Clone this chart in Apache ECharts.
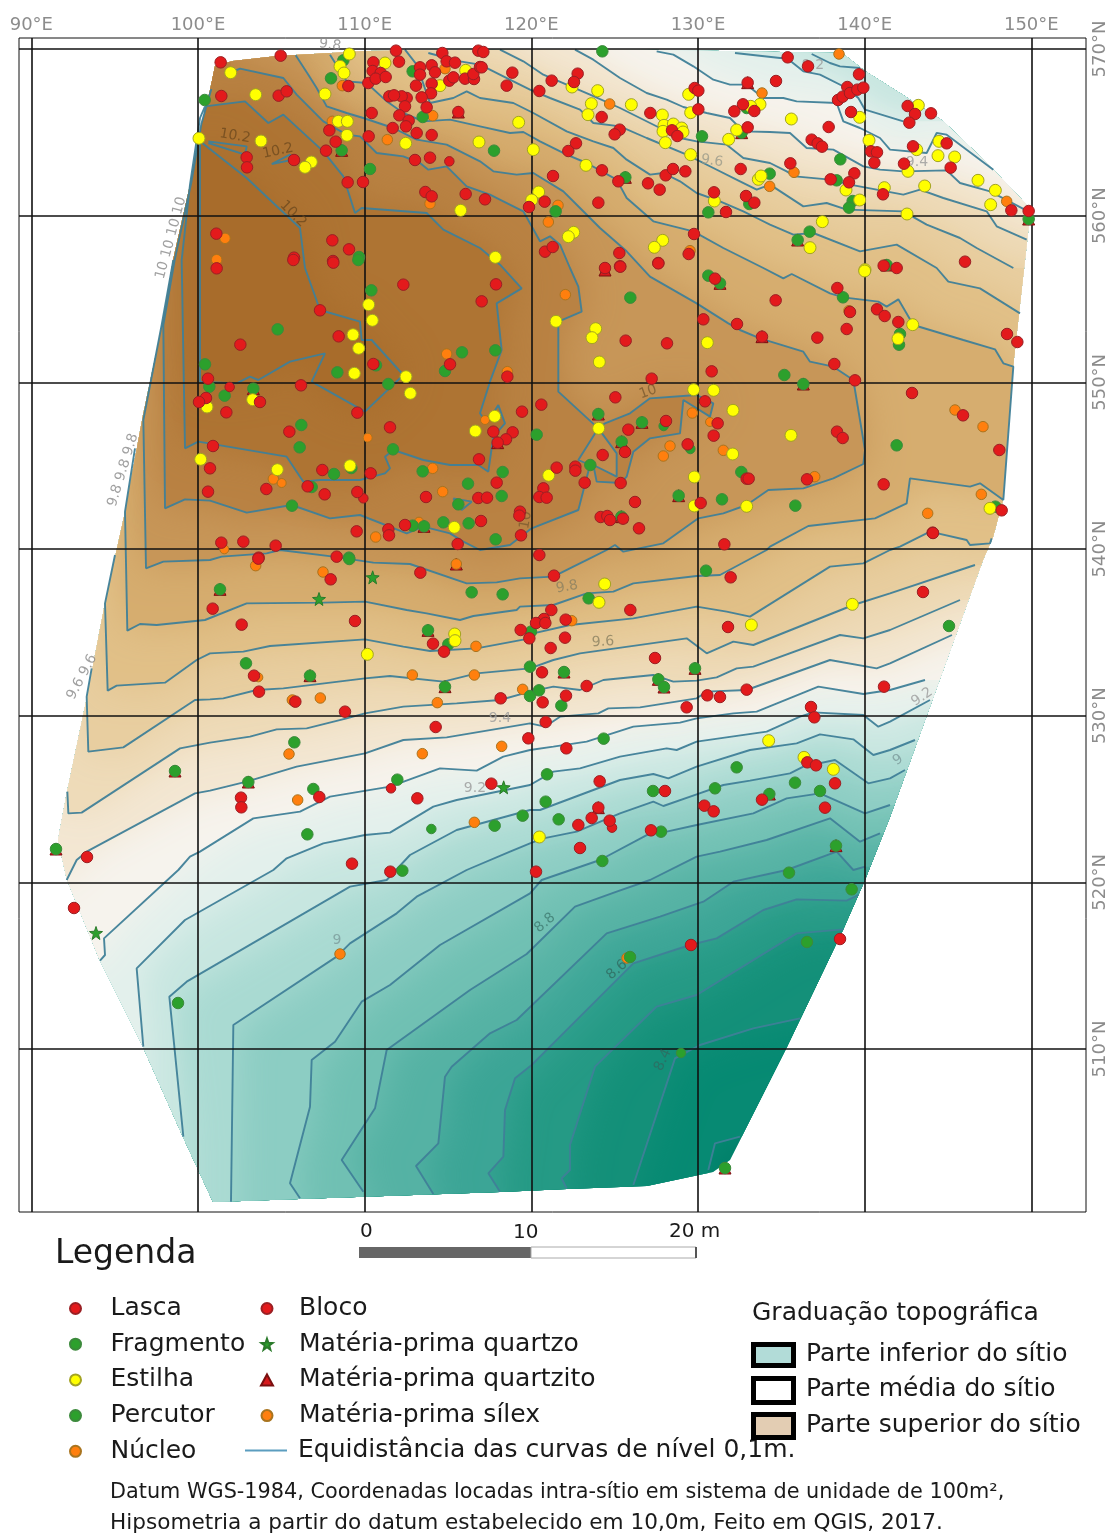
<!DOCTYPE html>
<html><head><meta charset="utf-8">
<style>html,body{margin:0;padding:0;background:#fff}#c{width:1116px;height:1533px}</style>
<script src="https://cdn.jsdelivr.net/npm/echarts@6/dist/echarts.min.js"></script>
</head><body><div id="c"></div>
<script>
const xTicks=[90,100,110,120,130,140,150];
const yTicks=[510,520,530,540,550,560,570];

const lasca=[[101.36,569.2],[104.96,569.6],[101.4,567.18],[104.84,567.2],[105.32,567.46],[102.92,563.5],[102.94,562.9],[105.76,563.34],[107.88,565.12],[108.26,564.44],[107.68,563.9],[109.02,567.78],[108.98,562],[109.9,562.02],[110.24,564.76],[110.42,566.16],[110.22,567.96],[110.52,569.2],[110.48,568.68],[110.96,568.56],[110.66,568.22],[111.26,568.32],[111.88,569.9],[112.06,569.24],[114.66,569.76],[113.32,568.9],[113.32,568.46],[114.02,569.02],[114.22,568.6],[114.92,569.26],[115.42,569.18],[115.08,568.1],[115.32,568.3],[116.02,568.22],[116.56,568.2],[116.52,568.5],[116.92,568.92],[116.82,569.9],[117.12,569.82],[114.02,567.92],[113.08,567.8],[113.98,567.34],[113.42,567.1],[112.52,567.06],[112.22,567.16],[111.48,567.16],[111.76,567.22],[112.42,566.56],[113.72,566.5],[112.08,566.02],[112.64,565.7],[112.48,565.36],[111.68,565.26],[113.12,564.96],[114.02,564.84],[115.62,566.22],[113.02,563.34],[113.92,563.48],[113.64,561.42],[114.02,561.16],[116.06,561.3],[117.22,560.98],[101.1,558.92],[108.06,558.52],[109.06,557.98],[105.76,557.48],[108.1,557.28],
[118.86,568.58],[118.52,567.8],[117.02,568.9],[120.48,567.48],[121.22,568.1],[122.78,568.52],[122.56,568.02],[124.22,565.92],[125.3,565.16],[125,564.88],[127.14,566.16],[128.44,565.12],[128.76,564.78],[129.8,567.66],[130.02,567.5],[130.02,566.38],[132.98,567.98],[134.68,568.08],[132.7,566.68],[132.18,566.26],[133.38,566.28],[132.98,565.3],[122.68,564.34],[122.22,563.88],[124.24,562.72],[121.3,562.38],[125.22,562.06],[127,561.94],[127.7,561.56],[128.06,562.42],[128.5,562.8],[129.24,562.66],[132.56,562.8],[130.96,561.4],[132.88,561.18],[133.38,560.78],[131.68,560.22],[119.86,560.52],[120.8,560.84],[124.02,560.78],[129.76,558.9],[120.82,557.84],[121.28,558.12],[125.28,557.76],[129.44,557.7],[125.32,556.96],[127.62,557.16],[124.42,556.86],
[135.38,569.5],[136.6,568.96],[139.66,568.48],[138.96,567.72],[138.4,566.94],[138.68,567.14],[139.12,567.36],[139.56,567.56],[139.92,567.68],[139.18,566.22],[137.84,565.32],[142.58,566.58],[143.02,566.1],[142.68,565.58],[143.98,566.14],[136.82,564.56],[137.18,564.34],[137.44,564.14],[142.9,564.16],[144.92,564.34],[140.38,563.86],[140.74,563.8],[140.58,563.18],[142.36,563.12],[145.16,562.88],[135.54,563.14],[139.38,562.54],[137.96,562.18],[139.06,562],[141.1,561.28],[148.8,560.32],[149.84,560.28],[146.02,557.24],[141.14,557],[141.92,556.86],
[101.12,556.84],[112.32,555.86],[107.32,554.32],[102.54,552.26],[108.44,552.76],[110.52,551.1],[115.12,551.08],[100.6,550.22],[106.18,549.82],[100.48,549.06],[100.06,548.82],[103.72,548.82],[101.7,548.2],[109.56,548.18],[105.48,547.04],[111.52,547.3],[100.9,546.18],[100.72,544.84],[107.46,544.74],[110.36,544.54],[100.6,543.44],[104.1,543.6],[106.58,543.76],[107.6,543.28],[109.56,543.42],[113.68,543.12],[109.52,541.06],[111.42,541.18],[111.46,540.82],[112.42,541.44],[101.4,540.38],[102.72,540.44],[104.66,540.2],[103.64,539.48],[108.32,539.54],[115.58,540.3],[105.72,557.34],[108.12,557.18],
[117.88,555.88],[117.02,554.86],[125.34,556.94],[127.62,557.14],[131.02,556.22],[130.32,553.78],[132.34,553.5],[125.66,552.5],[128.14,552.34],[130.82,550.66],[118.56,550.34],[127.22,550.22],[125.04,549.1],[130.42,548.86],[120.6,548.66],[119.44,548.24],[118.88,547],[118.48,546.58],[117.98,546.38],[117.72,547.04],[125.82,547.16],[128.08,547.68],[131.18,547.54],[130.94,546.8],[129.38,546.28],[125.62,545.82],[124.28,545.64],[116.86,545.38],[121.52,544.88],[122.64,544.94],[122.64,544.7],[123.2,543.98],[125.36,543.96],[117.92,543.98],[120.72,543.64],[120.48,543.12],[120.92,543.08],[116.82,543.06],[117.34,543.08],[126.22,542.82],[130.16,542.76],[132.92,544.22],[119.32,542.24],[119.28,542],[116.98,541.68],[119.38,540.82],[124.16,541.92],[124.56,541.98],[124.72,541.74],[125.5,541.82],[126.46,541.24],[131.58,540.28],[120.48,539.64],
[138.36,555.66],[134.66,554.92],[140.74,554.38],[141.2,553.98],[142.02,553.62],[139.12,554.22],[138.92,553.2],[137.16,552.68],[133.84,552.74],[138.18,551.1],[139.42,550.12],[148.54,552.9],[149.16,552.42],[142.84,549.36],[145.9,548.02],[138.34,547.04],[138.68,546.66],[148.08,545.94],[141.14,543.88],[136.54,544.18],[133.04,544.22],[148.22,542.32],[144.08,540.98],
[103.62,539.42],[107.96,538.18],[100.88,536.42],[102.62,535.46],[109.42,535.68],[113.34,538.58],[103.36,532.4],[103.66,531.44],[105.84,530.84],[108.82,530.24],[114.1,534.32],[114.76,533.84],[114.26,529.32],[118.16,531.04],[119.36,535.14],[119.88,534.64],[119.82,528.64],[102.58,525.08],[102.6,524.5],[107.28,525.12],[113.16,525.04],[117.6,525.92],[109.24,521.12],[111.54,520.64],
[121.36,538.4],[125.94,536.34],[131.96,538.3],[121.2,536.34],[120.76,535.8],[120.28,535.56],[120.84,535.56],[122.06,535.76],[122.02,534.68],[121.16,534.06],[131.8,535.32],[127.42,533.46],[120.64,532.6],[122.08,531.2],[123.32,531.78],[120.68,530.8],[130.56,531.22],[131.32,531.12],[132.92,531.56],[129.32,530.5],[136.78,530.52],[136.98,529.9],[120.86,529.62],[122.1,528.04],[141.16,531.74],[124.1,526.06],[128.02,525.48],[136.56,527.2],[137.08,527.02],[138.22,525.94],[124.02,524.48],[133.84,524.96],[130.38,524.6],[130.94,524.26],[137.62,524.48],[123.62,523.86],[122.82,523.44],[124.7,523.7],[127.18,523.12],[122.92,522.06],[120.28,520.64],
[93.34,521.52],[92.56,518.46],[129.58,516.24],[138.52,516.6],[143.5,537.42],[144.1,540.96]];
const bloco=[[115.08,563.26],[101.9,549.72],[109.92,543.04],[124.84,523.28],[111.58,525.64]];

const fragmento=[[100.4,566.94],[108.72,569.32],[107.98,568.24],[108.62,563.92],[110.32,562.8],[109.66,557.52],[113.48,565.92],[112.88,568.66],[124.26,569.86],[117.76,563.9],[125.64,562.3],[130.24,564.76],[132.62,564.98],[132.92,566.46],[134.3,562.52],[121.46,560.26],[130.62,560.2],[133.08,560.7],[138.54,563.38],[138.32,562.12],[139.28,560.88],[139.06,560.48],[136.7,559.04],[135.98,558.54],[149.84,559.8],[110.4,555.52],[104.78,553.18],[100.42,551.08],[108.36,550.6],[110.68,551.02],[114.82,550.68],[111.42,549.9],[100.68,549.74],[103.32,549.62],[101.6,549.2],[106.2,547.44],[106.1,546.1],[111.7,545.98],[108.16,544.5],[109.2,544.86],[113.48,544.66],[106.82,543.72],[105.64,542.6],[112.88,541.4],[113.56,541.36],[114.72,541.6],[115.62,542.68],[109.06,539.48],[109.62,557.34],[125.94,555.08],[130.62,556.4],[131.32,555.94],[115.84,551.8],[117.84,551.92],[120.32,546.86],[124.02,548.1],[126.64,547.6],[125.42,546.44],[132.6,544.62],[123.54,545.04],[118.28,544.62],[116.2,543.92],[118.22,543.18],[116.24,541.54],[117.86,540.58],[125.4,541.94],[128.84,543.2],[131.44,542.98],[138.7,555.1],[142.12,552.9],[142.06,552.26],[135.18,550.44],[136.32,549.9],[141.92,546.22],[135.84,542.6],[147.84,542.54],[141.32,557.04],[109.08,539.4],[101.32,537.58],[116.42,537.4],[118.28,537.28],[113.8,535.12],[115.02,534.28],[102.88,533.14],[106.72,532.4],[114.82,531.74],[103.02,526.02],[105.78,528.4],[106.92,525.6],[111.96,526.16],[106.56,522.88],[117.8,523.4],[119.48,524],[112.26,520.7],[119.92,532.94],[119.92,531.18],[130.48,538.7],[123.44,537.04],[119.98,535.04],[121.96,532.62],[127.62,532.18],[127.96,531.72],[129.82,532.84],[120.46,531.52],[121.8,530.6],[124.34,528.62],[120.94,526.48],[120.86,524.84],[121.64,523.78],[127.3,525.48],[131.02,525.64],[132.32,526.9],[134.28,525.3],[135.82,525.98],[137.32,525.48],[138.28,522.2],[127.78,523.04],[124.26,521.28],[135.46,520.58],[139.22,519.58],[91.48,522],[98.62,526.68],[98.8,512.76],[136.54,516.42],[125.92,515.52],[131.62,502.86],[145.06,535.38]];
const percutor=[[114,523.2],[127.94,547.38],[129.54,546],[128.98,509.76]];

const estilha=[[101.96,568.58],[103.46,567.26],[100.06,564.64],[103.78,564.48],[107.62,567.3],[109.08,569.7],[108.52,568.96],[108.76,568.56],[108.42,565.66],[108.96,565.66],[108.94,564.82],[106.8,563.22],[106.42,562.9],[111.22,569.16],[112.46,564.34],[115.76,560.32],[116.86,564.42],[116.06,568.72],[114.52,567.8],[119.24,565.6],[120.12,563.96],[117.84,557.5],[122.44,567.72],[123.98,567.5],[123.6,566.72],[123.4,566.06],[126,566.66],[127.86,566.04],[127.96,565.42],[127.9,565.06],[128.52,565.5],[129.02,565.26],[129.1,565.02],[128.04,564.38],[129.56,566.18],[129.44,567.28],[129.56,563.66],[123.28,563.02],[120.44,561.42],[120.02,560.94],[130.98,560.88],[122.54,559],[122.22,558.74],[127.88,558.52],[127.38,558.1],[131.84,564.58],[132.32,565.14],[133.72,566.68],[133.16,566.56],[133.62,562.18],[133.78,562.38],[135.6,565.8],[139.7,565.9],[143.22,566.62],[140.26,564.52],[143.12,563.96],[144.46,564.46],[144.4,563.6],[145.4,563.52],[142.6,562.66],[141.18,561.68],[143.6,561.78],[138.88,561.54],[139.7,560.94],[146.8,562.12],[147.84,561.52],[147.56,560.66],[142.54,560.1],[137.46,559.64],[136.72,558.08],[140.02,556.76],[110.24,554.66],[110.46,553.72],[109.3,552.86],[109.64,552.04],[109.38,550.54],[112.48,550.34],[112.74,549.34],[103.28,548.96],[100.54,548.52],[100.16,545.38],[104.76,544.76],[109.12,545],[115.38,541.3],[121.48,553.66],[123.86,553.22],[123.64,552.68],[124.08,551.22],[130.56,552.38],[129.74,549.56],[130.94,549.52],[132.1,548.32],[117.8,547.96],[116.64,547.08],[124.04,547.24],[132.08,545.7],[121.04,544.42],[129.78,544.32],[129.78,542.58],[132.92,542.56],[140,556.68],[142.88,553.46],[142,552.62],[135.58,546.82],[147.52,542.44],[115.4,534.9],[115.42,534.5],[110.16,533.68],[124.4,537.9],[124.06,536.8],[133.2,535.44],[139.26,536.68],[134.24,528.5],[136.36,527.5],[138.12,526.78],[120.48,522.72]];

const nucleo=[[111.36,564.56],[114.08,566],[101.62,558.64],[101.12,557.36],[113.92,560.72],[108.66,567.8],[108.06,565.66],[114.82,568.82],[124.7,566.7],[133.84,567.36],[134.3,561.76],[121.6,560.62],[121.02,559.62],[129.52,557.9],[138.46,569.7],[135.76,562.6],[148.52,560.86],[114.92,551.7],[114.08,544.84],[104.52,544.2],[114.68,543.44],[110.66,540.72],[122.04,555.26],[129.66,548.16],[128.32,546.18],[127.92,545.58],[131.52,545.92],[118.56,550.64],[139.06,554.3],[145.42,548.34],[147.1,547.34],[137,544.34],[147,543.28],[143.78,542.14],[103.46,539],[107.5,538.62],[115.5,539.1],[116.68,534.16],[112.86,532.44],[116.58,532.44],[119.48,531.58],[105.66,530.94],[107.34,531.06],[114.36,530.78],[105.46,527.7],[113.46,527.72],[118.22,528.16],[105.98,524.94],[116.58,523.6],[122.42,535.7],[108.52,515.7],[125.74,515.46]];
const silex=[[105.02,543.96],[110.18,546.68],[117.22,547.74],[130.72,547.62],[101.58,539.98],[103.62,532.3],[113.26,541.64]];
const quartzo=[[110.48,538.3],[107.26,537],[118.34,525.7],[93.88,516.96]];
const quartzito=[[108.62,563.92],[125.64,562.3],[132.62,564.98],[132.98,567.98],[115.62,566.22],[135.98,558.54],[149.84,559.8],[103.32,549.62],[113.56,541.36],[117.98,546.38],[124.02,548.1],[126.64,547.6],[125.42,546.44],[125.4,541.94],[128.84,543.2],[131.32,555.94],[136.32,549.9],[133.84,552.74],[141.32,557.04],[101.32,537.58],[113.8,535.12],[106.72,532.4],[114.82,531.74],[103.02,526.02],[115.5,539.1],[121.96,532.62],[127.62,532.18],[127.96,531.72],[129.82,532.84],[124.02,524.48],[134.28,525.3],[138.28,522.2],[91.48,522],[98.62,526.68],[131.62,502.86],[124.42,556.74]];

const siteHull=[[101.02,568.98],[102.1,569.28],[104.74,569.58],[110.14,569.88],[124.12,570],[138.64,569.76],[140.02,568.68],[142.3,567.24],[144.7,565.68],[147.34,563.16],[149.74,560.64],[149.92,560.04],[149.62,557.34],[148.9,550.92],[148.3,542.94],[147.7,540.72],[147.1,539.34],[141.52,523.92],[140.02,520.14],[138.7,517.14],[135.34,510.12],[131.92,503.34],[130.9,502.62],[126.94,501.78],[122.14,501.6],[118.12,501.42],[100.9,500.82],[99.1,504.72],[96.7,510.12],[94.12,515.28],[92.14,520.14],[91.6,522.54],[92.14,525.42],[93.34,531.12],[94.42,536.76],[95.62,542.22],[96.7,548.04],[97.84,553.44],[98.5,557.34],[99.52,561.84],[100.12,565.08],[100.72,567.54]];

const c83=[[130.62,502.74],[131.02,504.34],[132.52,504.74]];
const c84=[[126.12,501.84],[128.62,509.44],[130.12,510.24],[133.32,511.24],[136.12,511.84]];
const c85=[[122.12,501.64],[121.82,502.24],[122.32,502.74],[122.32,504.24],[123.82,508.94],[127.52,512.54],[129.92,513.24],[135.92,516.94],[138.72,517.18]];
const c86=[[118.12,501.44],[117.42,502.54],[118.32,503.54],[118.42,506.34],[119.02,508.24],[120.02,509.04],[126.12,515.14],[129.52,516.24],[131.12,516.64],[133.92,518.34],[135.92,518.98],[138.92,518.9],[139.62,519.24]];
const c87=[[114.12,501.3],[113.08,502.98],[114.42,504.34],[114.82,508.34],[115.22,508.94],[117.52,510.94],[119.12,511.74],[124.52,516.94],[127.72,517.94],[130.32,518.84],[132.12,520.04],[135.32,520.74],[138.32,521.84],[139.32,520.74],[140.02,520.94]];
const c88=[[109.92,501.44],[108.62,503.34],[110.62,506.44],[111.32,509.94],[116.32,513.54],[119.72,515.7],[122.62,518.54],[125.12,519.44],[127.12,520.14],[129.92,521.54],[131.32,521.84],[134.12,522.54],[137.92,523.84],[139.72,522.44],[140.92,522.94]];
const c89=[[106.12,501.04],[105.52,501.94],[106.72,506.54],[106.82,509.34],[108.22,510.44],[109.82,512.84],[111.52,513.84],[114.52,516.24],[119.92,519.34],[120.62,520.14],[124.12,521.34],[127.12,522.94],[128.12,523.04],[129.92,523.44],[133.32,524.14],[135.32,525.04],[137.32,525.34],[140.02,524.14],[141.52,524.64]];
const c90=[[101.98,500.84],[102.12,511.44],[108.32,515.54],[109.12,516.34],[111.92,518.14],[113.12,519.14],[116.12,520.74],[118.72,521.84],[119.92,522.34],[120.72,522.64],[122.72,523.04],[125.32,524.14],[127.32,524.84],[127.92,524.58],[129.92,525.28],[131.52,525.84],[133.12,526.1],[135.52,526.54],[136.32,526.94],[138.22,527.34],[140.22,525.94],[141.52,526.24],[142.42,526.74]];
const c91=[[99.12,504.74],[98.28,513.14],[99.32,514.04],[109.12,519.74],[111.32,520.14],[112.72,521.64],[115.52,523.14],[119.92,524.34],[120.52,524.34],[122.92,525.24],[125.32,526.14],[127.32,526.5],[128.22,526.24],[129.92,526.94],[133.12,527.94],[135.92,528.34],[137.32,528.88],[139.32,528.58],[140.52,527.64],[141.52,527.94],[143.02,528.54]];
const c91top=[[136.82,569.7],[137.92,569.16],[138.52,568.96],[139.72,568.86]];
const c92=[[96.72,510.14],[96.32,514.84],[99.22,517.74],[104.52,520.74],[105.32,521.44],[107.52,522.34],[110.02,522.84],[111.52,522.98],[114.12,524.54],[115.52,524.94],[119.92,525.84],[121.32,526.64],[122.92,526.84],[125.32,527.54],[128.12,528.04],[128.72,527.94],[129.92,528.44],[134.12,529.04],[136.12,529.94],[136.92,530.2],[139.92,530.04],[140.82,529.34],[141.52,529.64],[143.92,530.94]];
const c92top=[[132.22,569.76],[134.92,569.46],[135.32,569.46],[136.32,568.66],[137.32,568.46],[138.92,567.66],[139.62,567.06],[140.02,566.36],[142.32,565.66]];
const c93=[[94.12,515.3],[94.42,515.64],[94.36,516.64],[98.82,520.74],[99.52,521.54],[100.12,521.84],[103.32,523.84],[106.12,524.24],[107.92,525.14],[111.52,525.74],[114.52,526.84],[116.72,526.7],[118.32,527.54],[119.92,527.94],[121.32,528.14],[123.32,528.44],[126.12,529.34],[128.92,529.58],[129.92,529.84],[132.12,530.14],[133.52,530.24],[137.22,531.74],[139.92,531.3],[141.52,531.54],[143.62,532.14]];
const c93top=[[127.52,569.86],[128.52,569.66],[129.72,568.96],[130.92,568.16],[131.92,567.86],[132.92,567.86],[133.92,567.06],[135.12,567.06],[135.92,566.86],[138.32,566.76],[138.72,565.66],[139.72,565.26],[140.92,564.66],[141.52,563.96],[143.72,563.76],[144.32,564.96],[144.92,564.86],[147.72,562.76]];
const c94=[[92.12,520.14],[92.72,521.34],[93.32,521.84],[99.82,525.34],[100.72,525.5],[102.92,526.04],[105.92,526.94],[110.02,527.74],[112.32,528.54],[114.92,528.7],[119.92,529.54],[120.02,529.64],[120.82,529.34],[121.72,529.94],[124.02,530.14],[124.62,530.44],[126.52,530.5],[129.92,531.04],[130.52,531.44],[132.92,531.54],[137.92,533.34],[140.72,532.84],[141.52,533.14],[145.24,534.84]];
const c94top=[[122.62,569.96],[123.72,569.36],[125.32,568.26],[126.92,567.36],[128.12,566.96],[129.12,566.52],[130.52,566.16],[131.92,565.86],[132.72,565.06],[134.32,565.02],[135.52,564.96],[136.52,564.06],[138.12,563.96],[139.92,562.96],[140.92,562.76],[142.32,562.66],[144.92,562.72],[145.72,561.96],[147.52,561.46],[149.72,560.3]];
const c95=[[92.16,525.44],[92.22,524.14],[93.02,524.18],[98.92,528.04],[100.72,528.38],[103.12,528.74],[104.72,529.18],[106.52,529.24],[108.92,529.84],[110.02,530.14],[112.32,530.54],[115.52,530.74],[118.12,530.94],[119.92,531.44],[121.32,531.74],[122.92,531.54],[124.32,532.14],[127.32,532.44],[128.52,532.04],[129.92,532.1],[131.12,532.3],[132.32,532.84],[133.32,532.94],[138.52,534.84],[139.92,534.64],[141.52,535.14],[145.72,536.94]];
const c95top=[[118.12,569.96],[119.52,569.26],[120.72,568.46],[122.12,567.86],[123.52,567.26],[125.32,566.46],[127.12,565.56],[128.92,564.66],[129.92,564.46],[131.72,564.26],[132.72,563.46],[134.32,563.16],[135.32,562.66],[135.82,562.36],[137.92,562.16],[139.12,561.86],[142.32,561.26],[143.32,561.56],[144.72,561.06],[147.32,560.26],[147.92,559.36],[149.72,558.56]];
const c96=[[93.62,532.84],[93.32,531.14],[93.42,527.84],[95.52,528.1],[99.82,530.94],[100.72,530.98],[101.52,531.04],[103.52,531.54],[105.12,531.64],[110.02,532.24],[111.52,532.38],[114.72,532.04],[116.72,532.54],[119.92,532.84],[121.32,533.34],[122.92,533.74],[129.32,534.64],[130.52,533.74],[132.12,534.44],[133.32,534.24],[139.32,536.64],[141.52,537.34],[146.62,539.04]];
const c96top=[[113.82,569.76],[115.72,569.26],[116.92,569.06],[118.32,568.36],[119.92,567.56],[121.12,567.06],[122.92,566.36],[123.72,565.56],[125.32,565.36],[126.92,564.66],[129.32,563.66],[130.92,562.86],[132.52,562.06],[133.52,561.56],[134.32,561.86],[136.32,560.56],[137.72,560.76],[138.92,560.36],[142.32,560.26],[143.72,559.46],[145.72,558.66],[146.72,558.06],[148.92,556.86]];
const c97=[[95.02,539.64],[94.42,536.74],[94.58,531.5],[95.12,531.8],[98.02,531.98],[99.92,533.34],[100.72,533.74],[102.72,533.84],[104.32,534.18],[110.02,534.58],[112.32,534.14],[113.92,533.88],[116.72,534.04],[119.92,534.64],[120.12,534.94],[122.32,535.44],[126.12,535.84],[129.92,536.54],[131.72,536.24],[133.12,535.94],[137.92,538.94],[139.92,539.14],[141.52,539.94],[142.12,540.14],[143.92,541.04],[146.12,540.54],[146.32,540.24],[147.52,540.34],[147.62,540.64]];
const c97top=[[112.42,569.96],[113.12,569.06],[113.92,566.76],[115.32,567.06],[116.12,567.46],[116.92,567.06],[118.92,566.76],[120.12,566.16],[122.12,565.06],[123.72,564.46],[124.92,564.06],[125.72,563.36],[127.12,562.46],[127.92,562.56],[128.92,562.06],[129.92,561.36],[131.32,560.86],[132.72,560.26],[133.52,559.86],[134.32,559.46],[135.72,558.86],[136.92,558.96],[139.72,557.86],[141.92,558.26],[144.32,556.86],[145.02,556.04],[146.92,555.64],[149.32,554.14]];
const c98=[[107.92,569.66],[108.92,568.06],[110.12,567.96],[111.32,566.86],[112.32,566.16],[113.52,565.66],[115.12,565.76],[116.92,565.36],[118.72,564.96],[119.52,565.02],[120.52,564.46],[122.12,563.66],[123.32,563.16],[125.12,562.16],[125.72,561.06],[127.32,559.66],[129.72,559.06],[131.52,558.06],[133.92,556.86],[135.12,556.24],[135.62,556.5],[137.92,555.34],[138.72,555.1],[140.82,554.84],[141.32,554.54],[142.02,554.98],[142.92,553.44],[145.92,552.54],[147.82,551.98],[148.32,551.14],[148.92,550.94],[148.32,542.94],[146.92,543.94],[146.32,543.74],[142.72,544.24],[142.52,542.74],[140.62,541.84],[136.62,541.38],[134.32,540.14],[134.12,539.94],[131.32,538.44],[129.92,538.38],[126.12,537.94],[124.92,537.44],[123.32,537.34],[121.32,536.64],[119.32,536.54],[119.12,536.34],[116.52,535.98],[115.72,535.74],[113.72,536.14],[112.52,536.34],[110.02,536.84],[107.52,536.78],[102.92,536.74],[100.42,535.74],[97.52,535.44],[96.52,535.5],[95.76,535.1],[95.62,542.24],[96.22,546.04]];
const c99=[[105.86,569.62],[106.62,568.46],[107.12,567.66],[107.72,566.56],[108.92,566.16],[109.92,565.86],[111.72,565.26],[113.12,564.56],[114.92,564.26],[116.92,563.26],[117.72,562.66],[119.12,562.46],[120.12,562.56],[121.92,561.46],[122.92,560.46],[124.12,559.26],[125.72,557.86],[127.12,556.34],[129.92,554.74],[131.82,553.54],[132.52,553.14],[133.72,552.64],[136.32,551.84],[136.72,551.24],[138.12,550.94],[139.32,550.14],[140.02,545.94],[139.92,545.1],[138.12,544.24],[136.32,543.64],[134.22,543.54],[132.92,542.64],[131.52,542.14],[130.02,541.84],[127.92,540.34],[125.52,539.84],[125.02,540.24],[124.52,539.94],[123.52,539.44],[122.52,538.94],[121.32,538.34],[119.32,538.24],[117.92,538],[116.12,537.94],[112.72,539.1],[110.52,539.18],[108.12,539.54],[104.92,539.94],[104.12,539.74],[101.42,539.54],[100.72,539.34],[97.92,539.24],[96.88,538.84],[96.72,547.74],[97.82,553.44],[98.52,557.34]];
const c100=[[101.96,568.58],[102.52,568.82],[105.12,568.26],[105.92,567.26],[107.52,565.66],[108.92,564.86],[109.72,564.76],[110.72,563.76],[112.32,563.56],[113.32,563.16],[113.82,562.76],[114.92,562.96],[116.12,561.76],[117.52,561.26],[118.32,560.86],[119.52,560.26],[120.52,558.46],[121.12,558.76],[121.72,558.26],[122.32,556.86],[122.82,555.74],[123.02,554.24],[121.62,553.64],[121.62,549.44],[124.02,547.24],[124.42,547.54],[125.92,548.14],[127.12,549.04],[129.92,549.24],[130.92,548.74],[130.72,547.94],[129.12,548.94],[128.92,546.94],[127.12,546.64],[126.12,545.84],[125.72,544.34],[125.36,543.96],[123.92,544.04],[123.72,545.04],[125.12,544.34],[125.12,545.74],[124.02,547.24],[122.82,545.34],[123.52,545.04],[122.82,542.34],[120.02,541.24],[118.72,540.24],[116.92,539.94],[115.92,540.44],[115.12,540.94],[113.52,541.34],[112.52,540.94],[109.72,542.04],[107.92,541.84],[105.62,542.64],[102.92,542.18],[100.72,542.9],[99.22,542.98],[98.02,542.44],[97.92,553.44],[98.6,557.34],[99.6,562],[100.2,565.5],[100.8,567.6]];
const c101=[[100.42,566.56],[102.82,566.86],[104.22,565.56],[105.12,566.06],[107.52,563.86],[108.72,562.36],[109.42,560.16],[109.82,560.46],[113.72,560.16],[114.72,559.16],[116.92,558.06],[118.12,557.06],[119.42,555.64],[117.92,554.74],[118.22,551.94],[117.52,550.04],[116.92,548.14],[117.32,547.54],[118.02,548.64],[118.42,547.54],[117.72,546.74],[117.42,544.64],[116.82,545.04],[115.12,545.04],[113.52,545.34],[111.72,545.94],[111.22,545.54],[111.52,544.84],[111.22,544.54],[109.72,544.14],[107.32,544.14],[106.32,544.04],[105.32,545.54],[100.02,546.44],[99.22,546.04],[99.02,557.34],[99.52,561.86],[100.12,565.86],[100.42,566.56]];
const c101small=[[115.32,543.04],[116.42,542.84],[115.82,542.34],[115.32,543.04]];
const c102=[[100.12,564.46],[102.92,562.26],[106.12,559.26],[106.42,556.86],[107.32,554.34],[109.72,553.64],[109.82,552.54],[110.42,552.54],[112.32,550.44],[110.02,548.24],[106.82,550.04],[107.62,551.74],[105.52,551.24],[103.62,550.14],[103.12,550.34],[102.32,549.94],[100.12,550.04],[100.12,557.34],[100.12,564.46]];
const c102wedge=[[100.62,564.46],[102.92,564.16],[102.82,563.66],[100.62,564.36]];
const c102small=[[104.42,563.1],[105.52,563.66],[105.72,563.36],[104.42,563.1]];

const levels=[8.3,8.4,8.5,8.6,8.7,8.8,8.9,9.0,9.1,9.2,9.3,9.4,9.5,9.6,9.7,9.8,9.9,10.0,10.1,10.2];
const levelColors=['#078a73','#149079','#259a85','#3ca596','#55b2a4','#70c0b3','#8ccdc3','#a9dad2','#c7e6e0','#e3f0ec','#f6f3ed','#f3e7d3','#eedbb9','#e8cea0','#e1c088','#d6ad6f','#c79658','#b98243','#ae7433','#a86c2b'];
const baseColor='#007f68';
const lowerLines=[c83,c84,c85,c86,c87,c88,c89,c90,c91,c92,c93,c94,c95,c96,c97,c98,c99,c100,c101,c102];
const upperLines={9.2:c92top,9.3:c93top,9.4:c94top,9.5:c95top,9.6:c96top,9.7:c97top};
const extraLines=[c91top,c92top,c93top,c94top,c95top,c96top,c97top,c101small,c102wedge,c102small];

const contourLabels=[
['9.8',107.92,570.24,-8,'#8a8a8a'],['10.2',102.22,564.78,-10,'#6e4a1e'],['10.2',104.8,563.88,12,'#6e4a1e'],['10.2',105.7,560.1,-45,'#6e4a1e'],
['10 10 10 10',98.38,558.66,75,'#8a8a8a'],['9.8 9.8 9.8',95.5,544.74,73,'#8a8a8a'],['9.6 9.6',93.04,532.32,62,'#8a8a8a'],
['9.6',130.84,563.28,-8,'#9a9a8a'],['9.4',143.14,563.22,0,'#9a9a9a'],['9.2',136.9,569.04,0,'#9a9a9a'],['10',127,549.42,20,'#7a5a30'],['10',119.68,541.74,80,'#7a5a30'],
['9.8',122.14,537.72,10,'#8a8060'],['9.6',124.3,534.42,3,'#8a8060'],['9.4',118.12,529.86,0,'#9a9a9a'],['9.2',116.62,525.66,0,'#9a9a9a'],['9.2',143.44,531.12,35,'#9a9a9a'],['9',142,527.34,35,'#7a9a9a'],['9',108.34,516.54,0,'#7a9a9a'],
['8.8',120.82,517.56,40,'#3f7a70'],['8.6',125.14,514.74,40,'#2f6a60'],['8.4',127.9,509.34,65,'#2f6a60']];

const legendNames=['Lasca','Fragmento','Estilha','Percutor','Núcleo','Bloco','Matéria-prima quartzo','Matéria-prima quartzito','Matéria-prima sílex','Equidistância das curvas de nível 0,1m.'];

/* ---- band polygons built from the contour lines ---- */
const OUT_E=170,OUT_N=585,OUT_W=80,OUT_S=480;
function bandPolygon(i){
  const lv=levels[i],L=lowerLines[i],U=upperLines[lv],a=L[0],b=L[L.length-1];
  if(lv>=10.1) return L;
  if(lv>=9.8) return L.concat([[OUT_W,b[1]],[OUT_W,OUT_N],[a[0],OUT_N]]);
  let p=L.concat([[OUT_E,b[1]]]);
  if(U){p.push([OUT_E,U[U.length-1][1]]);p=p.concat(U.slice().reverse());p.push([U[0][0],OUT_N]);}
  else p.push([OUT_E,OUT_N]);
  p.push([OUT_W,OUT_N]);
  if(lv<=9.2){p.push([OUT_W,OUT_S]);p.push([a[0],OUT_S]);} else p.push([OUT_W,a[1]]);
  return p;
}
const contourData=[];
lowerLines.concat(extraLines).forEach(s=>{s.forEach(q=>contourData.push(q));contourData.push([null,null]);});

function pts(sym,size,fill,border,name,data){
  return {type:'scatter',name,data,symbol:sym,symbolSize:size,z:4,silent:true,
    itemStyle:{color:fill,borderColor:border,borderWidth:1,opacity:1},emphasis:{disabled:true}};
}
const C=echarts.init(document.getElementById('c'),null,{renderer:'canvas'});
const FONT='"DejaVu Sans"';
const txt=(x,y,t,s,c)=>({type:'text',left:x,top:y,z:20,style:{text:t,font:s+'px '+FONT,fill:c||'#1a1a1a'}});
const swatch=(y,h,f)=>({type:'rect',z:25,shape:{x:753.5,y:y,width:40,height:h},style:{fill:f,stroke:'#000',lineWidth:5}});
const legendText=p=>({fontSize:25,color:'#1a1a1a',fontFamily:FONT,lineHeight:27,padding:[0,0,0,p]});
C.setOption({
  animation:false,
  backgroundColor:'#fff',
  textStyle:{fontFamily:FONT},
  grid:{left:19,right:30,top:38,bottom:321,show:true,borderColor:'#111',borderWidth:1,backgroundColor:'transparent'},
  xAxis:{type:'value',position:'top',min:89.26,max:153.28,z:3,
    axisLine:{show:false},
    axisTick:{show:false,customValues:xTicks},
    axisLabel:{customValues:xTicks,formatter:v=>v+'°E',color:'#8c8c8c',fontSize:18,margin:4,fontFamily:FONT},
    splitLine:{show:true,lineStyle:{color:'#111',width:1.6}}},
  yAxis:{type:'value',position:'right',min:500.22,max:570.66,z:3,
    axisLine:{show:false},
    axisTick:{show:false,customValues:yTicks},
    axisLabel:{customValues:yTicks,formatter:v=>v+'°N',color:'#8c8c8c',fontSize:18,rotate:90,margin:14,fontFamily:FONT,align:'center',verticalAlign:'middle'},
    splitLine:{show:true,lineStyle:{color:'#111',width:1.6}}},
  legend:[
    {left:69,top:1295,padding:0,orient:'vertical',itemWidth:12,itemHeight:11,itemGap:8.7,selectedMode:false,
      data:legendNames.slice(0,5),textStyle:legendText(24)},
    {left:260,top:1295,padding:0,orient:'vertical',itemWidth:12,itemHeight:11,itemGap:8.7,selectedMode:false,
      data:legendNames.slice(5,9),textStyle:legendText(21)},
    {left:245,top:1437,padding:0,orient:'vertical',itemWidth:42,itemHeight:2,selectedMode:false,
      data:[{name:legendNames[9],icon:'rect'}],textStyle:legendText(6)}
  ],
  series:[
    {type:'custom',coordinateSystem:'cartesian2d',silent:true,z:1,clip:false,
      data:levels.map((l,i)=>[lowerLines[i][0][0],lowerLines[i][0][1],l]),
      encode:{x:0,y:1},
      renderItem:function(params,api){
        const i=params.dataIndex;
        const toPx=a=>a.map(q=>api.coord(q));
        const hull=toPx(siteHull);
        const clip={type:'polygon',shape:{points:hull}};
        const band={type:'polygon',shape:{points:toPx(bandPolygon(i))},clipPath:clip,
          style:{fill:levelColors[i],shadowColor:levelColors[i],shadowBlur:40}};
        if(i===0) return {type:'group',children:[
          {type:'polygon',shape:{points:hull},style:{fill:baseColor}},band]};
        return band;
      }},
    {type:'line',name:legendNames[9],data:contourData,z:2,silent:true,showSymbol:false,symbol:'none',connectNulls:false,
      lineStyle:{color:'#3f7f98',width:1.9,opacity:0.95},itemStyle:{color:'#5b9dbf'}},
    {type:'scatter',name:'rótulos',data:contourLabels.map(l=>({value:[l[1],l[2],l[0]],
        label:{show:true,formatter:l[0],rotate:l[3],color:l[4],fontSize:14,position:'inside',fontFamily:FONT}})),
      symbolSize:1,itemStyle:{color:'transparent'},z:3,silent:true},
    pts('triangle',12,'#d7191c','#7a1010',legendNames[7],quartzito),
    pts('circle',10.5,'#ff7f0e','#a9741f',legendNames[4],nucleo),
    pts('circle',9,'#ff7f0e','#a9741f',legendNames[8],silex),
    pts('circle',11.5,'#2ca02c','#3c8a3c',legendNames[1],fragmento),
    pts('circle',9.5,'#2ca02c','#3c8a3c',legendNames[3],percutor),
    pts('path://M50 0 L62 35 L100 38 L70 60 L80 97 L50 75 L20 97 L30 60 L0 38 L38 35 Z',13,'#2ca02c','#2a7a2a',legendNames[6],quartzo),
    pts('circle',12,'#ffff00','#a3a322',legendNames[2],estilha),
    pts('circle',9.5,'#e31a1c','#9a2024',legendNames[5],bloco),
    pts('circle',11.5,'#e31a1c','#9a2024',legendNames[0],lasca)
  ],
  graphic:[
    txt(55,1238,'Legenda',33),
    {type:'rect',z:20,shape:{x:359,y:1247,width:172,height:11},style:{fill:'#666'}},
    {type:'rect',z:20,shape:{x:531,y:1247,width:165,height:11},style:{fill:'#fff',stroke:'#aaa',lineWidth:1}},
    {type:'rect',z:20,shape:{x:695,y:1247,width:2,height:11},style:{fill:'#555'}},
    txt(360,1222,'0',20),txt(513,1223,'10',20),txt(669,1222,'20 m',20),
    txt(752,1301,'Graduação topográfica',25),
    swatch(1344.5,21,'#b2dcd8'),swatch(1378.5,24,'#ffffff'),swatch(1414.5,23,'#e3cdb3'),
    txt(806,1342,'Parte inferior do sítio',25),
    txt(806,1377,'Parte média do sítio',25),
    txt(806,1413,'Parte superior do sítio',25),
    txt(110,1482.5,'Datum WGS-1984, Coordenadas locadas intra-sítio em sistema de unidade de 100m²,',20.8),
    txt(110,1512,'Hipsometria a partir do datum estabelecido em 10,0m, Feito em QGIS, 2017.',21.6)
  ]
});
</script></body></html>
